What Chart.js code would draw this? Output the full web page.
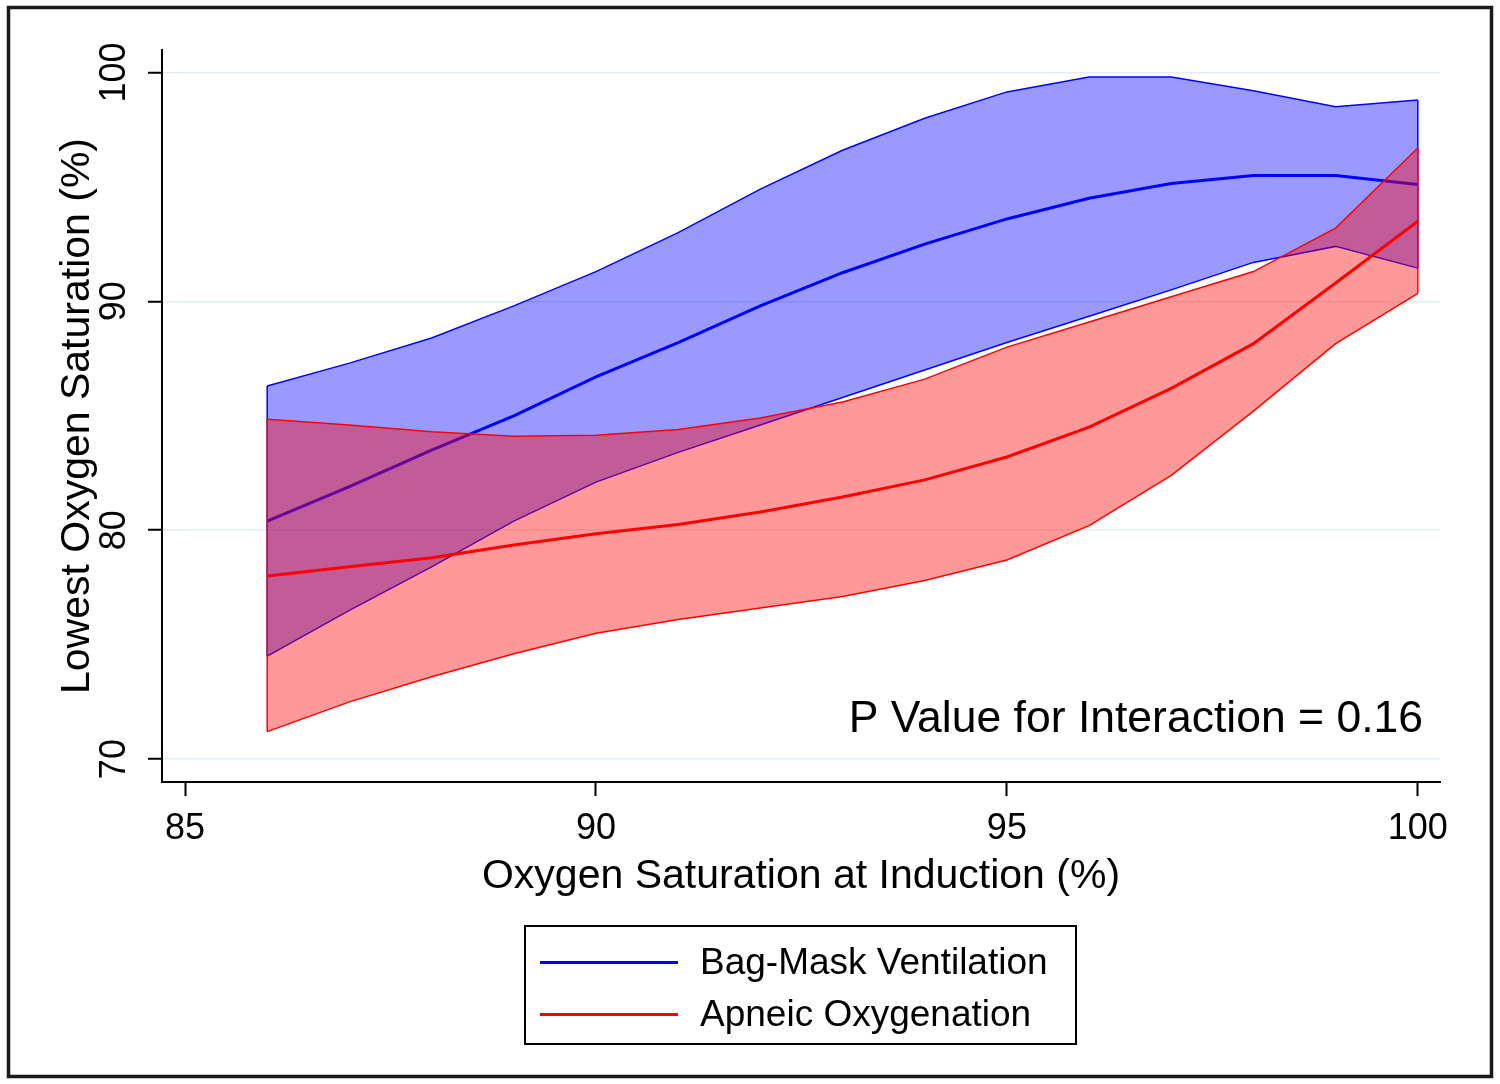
<!DOCTYPE html>
<html>
<head>
<meta charset="utf-8">
<script src="https://cdn.jsdelivr.net/npm/chart.js@4.4.1/dist/chart.umd.min.js"></script>
<style>
    body { margin: 0; background: #fff; font-family: "Liberation Sans", Arial, sans-serif; }
    #wrap { position: relative; width: 1500px; height: 1084px; }
    #chart { position: absolute; left: 0; top: 0; }
    #legend { position: absolute; left: 524px; top: 925px; width: 549px; height: 116px; border: 2px solid #000; }
    .item { position: absolute; left: 14px; height: 44px; display: flex; align-items: center; font-size: 37px; color: #000; }
    .swatch { width: 138px; height: 3px; margin-right: 22px; }
</style>
</head>
<body>
<div id="wrap">
    <canvas id="chart" width="1500" height="1084"></canvas>
    <div id="legend"></div>
</div>
<script>
const xValues = [86, 87, 88, 89, 90, 91, 92, 93, 94, 95, 96, 97, 98, 99, 100];
const xTicks = [85, 90, 95, 100];
const yTicks = [70, 80, 90, 100];

const bagUpper = [86.3, 87.3, 88.4, 89.8, 91.3, 93.0, 94.9, 96.6, 98.0, 99.15, 99.8, 99.8, 99.2, 98.5, 98.8];
const bagMean  = [80.4, 81.9, 83.5, 85.0, 86.7, 88.2, 89.8, 91.25, 92.5, 93.6, 94.5, 95.15, 95.5, 95.5, 95.1];
const bagLower = [74.5, 76.5, 78.4, 80.4, 82.1, 83.4, 84.6, 85.8, 87.0, 88.2, 89.35, 90.5, 91.7, 92.4, 91.45];

const apUpper = [84.85, 84.6, 84.3, 84.1, 84.15, 84.4, 84.9, 85.6, 86.6, 88.0, 89.1, 90.2, 91.3, 93.2, 96.7];
const apMean  = [78.0, 78.4, 78.8, 79.35, 79.85, 80.25, 80.8, 81.45, 82.2, 83.2, 84.5, 86.2, 88.15, 90.8, 93.5];
const apLower = [71.2, 72.5, 73.6, 74.6, 75.5, 76.1, 76.6, 77.1, 77.8, 78.7, 80.2, 82.4, 85.2, 88.15, 90.35];

const seriesNames = ['Bag-Mask Ventilation', 'Apneic Oxygenation'];
const seriesColors = ['#0000ff', '#ff0000'];
const pText = 'P Value for Interaction = 0.16';

const FONT = '"Liberation Sans", Arial, sans-serif';

function pts(ys) {
    return xValues.map((x, i) => ({ x: x, y: ys[i] }));
}

// closing vertical edges of a band at both ends
function edges(lo, hi) {
    const n = xValues.length - 1;
    return [
        { x: xValues[0], y: lo[0] }, { x: xValues[0], y: hi[0] },
        { x: xValues[n], y: null },
        { x: xValues[n], y: hi[n] }, { x: xValues[n], y: lo[n] }
    ];
}

function band(data, color, fill, order) {
    return { data: data, borderColor: color, borderWidth: 1.5, backgroundColor: color.replace('1)', '0.4)'),
             fill: fill, order: order, pointRadius: 0, tension: 0 };
}

const datasets = [
    band(pts(bagUpper), 'rgba(0,0,255,1)', 1, 6),
    band(pts(bagLower), 'rgba(0,0,255,1)', false, 5),
    band(edges(bagLower, bagUpper), 'rgba(0,0,255,1)', false, 5),
    { data: pts(bagMean), borderColor: seriesColors[0], borderWidth: 3, fill: false, order: 4, pointRadius: 0, tension: 0 },
    band(pts(apUpper), 'rgba(255,0,0,1)', 5, 3),
    band(pts(apLower), 'rgba(255,0,0,1)', false, 2),
    band(edges(apLower, apUpper), 'rgba(255,0,0,1)', false, 2),
    { data: pts(apMean), borderColor: seriesColors[1], borderWidth: 3, fill: false, order: 1, pointRadius: 0, tension: 0 }
];

const extras = {
    id: 'extras',
    afterDraw(chart) {
        const ctx = chart.ctx;
        const y = chart.scales.y;
        const area = chart.chartArea;
        ctx.save();
        // rotated y tick labels
        ctx.fillStyle = '#000';
        ctx.font = '36px ' + FONT;
        ctx.textAlign = 'center';
        ctx.textBaseline = 'middle';
        yTicks.forEach(v => {
            ctx.save();
            ctx.translate(115, y.getPixelForValue(v));
            ctx.rotate(-Math.PI / 2);
            ctx.fillText(String(v), 0, 0);
            ctx.restore();
        });
        // annotation
        ctx.font = '44.5px ' + FONT;
        ctx.textAlign = 'right';
        ctx.textBaseline = 'alphabetic';
        ctx.fillText(pText, area.right - 17, area.bottom - 50);
        // outer frame
        ctx.strokeStyle = '#1a1a1a';
        ctx.lineWidth = 3.5;
        ctx.strokeRect(8.5, 7.5, 1483, 1069);
        ctx.restore();
    }
};

new Chart(document.getElementById('chart'), {
    type: 'line',
    data: { datasets: datasets },
    options: {
        responsive: false,
        animation: false,
        devicePixelRatio: 1,
        layout: { padding: { left: 0, right: 60, top: 50, bottom: 172 } },
        plugins: { legend: { display: false }, tooltip: { enabled: false } },
        scales: {
            x: {
                type: 'linear', min: 84.72, max: 100.27,
                afterBuildTicks: s => { s.ticks = xTicks.map(v => ({ value: v })); },
                afterFit: s => { s.height = 130; },
                grid: { drawOnChartArea: false, drawTicks: true, tickLength: 14, tickColor: '#000', tickWidth: 2 },
                border: { display: true, color: '#000', width: 2 },
                ticks: { color: '#000', font: { size: 36, family: FONT }, padding: 11, maxRotation: 0 },
                title: { display: true, text: 'Oxygen Saturation at Induction (%)', color: '#000',
                         font: { size: 41, family: FONT }, padding: { top: 0, bottom: 11 } }
            },
            y: {
                type: 'linear', min: 69.0, max: 100.98,
                afterBuildTicks: s => { s.ticks = yTicks.map(v => ({ value: v })); },
                afterFit: s => { s.width = 162; },
                grid: { color: '#e4edf1', lineWidth: 1.5, drawTicks: true, tickLength: 14, tickColor: '#000', tickWidth: 2 },
                border: { display: true, color: '#000', width: 2 },
                ticks: { display: false },
                title: { display: true, text: 'Lowest Oxygen Saturation (%)', color: '#000',
                         font: { size: 41, family: FONT }, padding: { top: 53, bottom: 0 } }
            }
        }
    },
    plugins: [extras]
});

const legend = document.getElementById('legend');
seriesNames.forEach((name, i) => {
    const item = document.createElement('div');
    item.className = 'item';
    item.style.top = (i === 0 ? 13 : 65) + 'px';
    item.innerHTML = '<span class="swatch" style="background:' + seriesColors[i] + '"></span><span>' + name + '</span>';
    legend.appendChild(item);
});
</script>
</body>
</html>
